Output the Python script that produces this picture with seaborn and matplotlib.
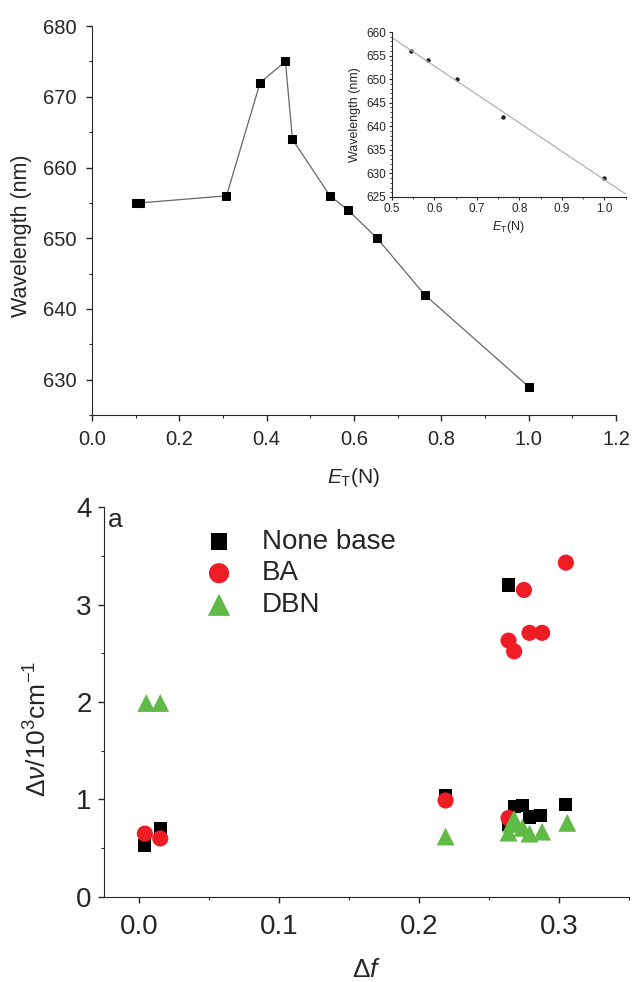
import matplotlib
matplotlib.use('Agg')
import matplotlib.pyplot as plt
import seaborn as sns
import numpy as np
import pandas as pd
from matplotlib.ticker import AutoMinorLocator, MultipleLocator

sns.set_style('ticks')
plt.rcParams['font.family'] = ['Liberation Sans', 'DejaVu Sans']
plt.rcParams['mathtext.fontset'] = 'custom'
plt.rcParams['mathtext.it'] = 'Liberation Sans:italic'
plt.rcParams['mathtext.rm'] = 'Liberation Sans'

# top panel: wavelength vs E_T(N)
et = [0.100, 0.110, 0.308, 0.385, 0.443, 0.459, 0.545, 0.586, 0.653, 0.762, 1.000]
wl = [655, 655, 656, 672, 675, 664, 656, 654, 650, 642, 629]

# inset: linear part
et_in = [0.545, 0.586, 0.653, 0.762, 1.000]
wl_in = [656, 654, 650, 642, 629]

# bottom panel: delta nu vs delta f
none_x = [0.004, 0.015, 0.219, 0.264, 0.264, 0.268, 0.274, 0.279, 0.287, 0.305]
none_y = [0.53, 0.70, 1.04, 3.20, 0.74, 0.93, 0.94, 0.82, 0.84, 0.95]
ba_x = [0.004, 0.015, 0.219, 0.264, 0.264, 0.268, 0.275, 0.279, 0.288, 0.305]
ba_y = [0.65, 0.60, 0.99, 0.81, 2.63, 2.52, 3.15, 2.71, 2.71, 3.43]
dbn_x = [0.005, 0.015, 0.219, 0.264, 0.266, 0.268, 0.274, 0.279, 0.288, 0.306]
dbn_y = [1.99, 1.99, 0.62, 0.66, 0.75, 0.80, 0.71, 0.65, 0.67, 0.76]

fig = plt.figure(figsize=(6.32, 9.82), dpi=100)

# ---- top main
ax1 = fig.add_axes([0.1456, 0.5774, 0.829, 0.396])
top = pd.DataFrame({'et': et, 'wl': wl})
sns.lineplot(data=top, x='et', y='wl', sort=False, color='#666666', linewidth=0.9,
             marker='s', markersize=6, markerfacecolor='black', markeredgecolor='black', ax=ax1)
ax1.set_xlim(0, 1.2)
ax1.set_ylim(625, 680)
ax1.xaxis.set_major_locator(MultipleLocator(0.2))
ax1.xaxis.set_minor_locator(AutoMinorLocator(2))
ax1.yaxis.set_major_locator(MultipleLocator(10))
ax1.yaxis.set_minor_locator(AutoMinorLocator(2))
ax1.set_xlabel('$E_\\mathrm{T}$(N)', fontsize=15, labelpad=12)
ax1.set_ylabel('Wavelength (nm)', fontsize=15.5)
ax1.yaxis.set_label_coords(-0.115, 0.46)
ax1.tick_params(labelsize=14.5, length=4, width=1.0, pad=7)
ax1.tick_params(which='minor', length=2.5, width=0.8)
sns.despine(ax=ax1)

# ---- inset
ax2 = fig.add_axes([0.620, 0.7994, 0.370, 0.168])
ax2.set_xlim(0.5, 1.05)
ax2.set_ylim(625, 660)
inset = pd.DataFrame({'et': et_in, 'wl': wl_in})
sns.regplot(data=inset, x='et', y='wl', ci=None, truncate=False, ax=ax2,
            scatter_kws={'marker': 's', 's': 5, 'color': 'black'},
            line_kws={'color': '#aaaaaa', 'linewidth': 0.8})
ax2.set_xlim(0.5, 1.05)
ax2.set_ylim(625, 660)
ax2.xaxis.set_major_locator(MultipleLocator(0.1))
ax2.xaxis.set_minor_locator(AutoMinorLocator(2))
ax2.yaxis.set_major_locator(MultipleLocator(5))
ax2.yaxis.set_minor_locator(AutoMinorLocator(5))
ax2.set_xlabel('$E_\\mathrm{T}$(N)', fontsize=9, labelpad=3)
ax2.set_ylabel('Wavelength (nm)', fontsize=9)
ax2.tick_params(labelsize=8.5, length=2.5, pad=1.5)
ax2.tick_params(which='minor', length=1.5)
sns.despine(ax=ax2)

# ---- bottom
ax3 = fig.add_axes([0.165, 0.0866, 0.830, 0.397])
sns.scatterplot(x=none_x, y=none_y, marker='s', s=90, color='black', edgecolor='none',
                label='None base', ax=ax3, zorder=3)
sns.scatterplot(x=ba_x, y=ba_y, marker='o', s=135, color='#ee1c25', edgecolor='none',
                label='BA', ax=ax3, zorder=3)
sns.scatterplot(x=dbn_x, y=dbn_y, marker='^', s=165, color='#5fbb46', edgecolor='none',
                label='DBN', ax=ax3, zorder=3)
ax3.set_xlim(-0.025, 0.35)
ax3.set_ylim(0, 4)
ax3.xaxis.set_major_locator(MultipleLocator(0.1))
ax3.xaxis.set_minor_locator(AutoMinorLocator(2))
ax3.yaxis.set_major_locator(MultipleLocator(1))
ax3.yaxis.set_minor_locator(AutoMinorLocator(2))
ax3.tick_params(labelsize=20, length=4, width=1.0, pad=5)
ax3.tick_params(axis='x', pad=8)
ax3.tick_params(which='minor', length=2.5, width=0.8)
ax3.set_xlabel('$\\Delta f$', fontsize=19, labelpad=13)
ax3.set_ylabel('$\\Delta\\nu$/10$^3$cm$^{-1}$', fontsize=19)
ax3.yaxis.set_label_coords(-0.100, 0.43)
ax3.text(0.006, 0.967, 'a', transform=ax3.transAxes, fontsize=19, va='center', ha='left')
ax3.legend(loc='upper left', bbox_to_anchor=(0.187, 0.944), frameon=False, fontsize=20,
           borderpad=0, borderaxespad=0, handlelength=1.2, handletextpad=0.95,
           labelspacing=0.2, markerscale=1.25)
sns.despine(ax=ax3)

fig.savefig('out.png', dpi=100)
